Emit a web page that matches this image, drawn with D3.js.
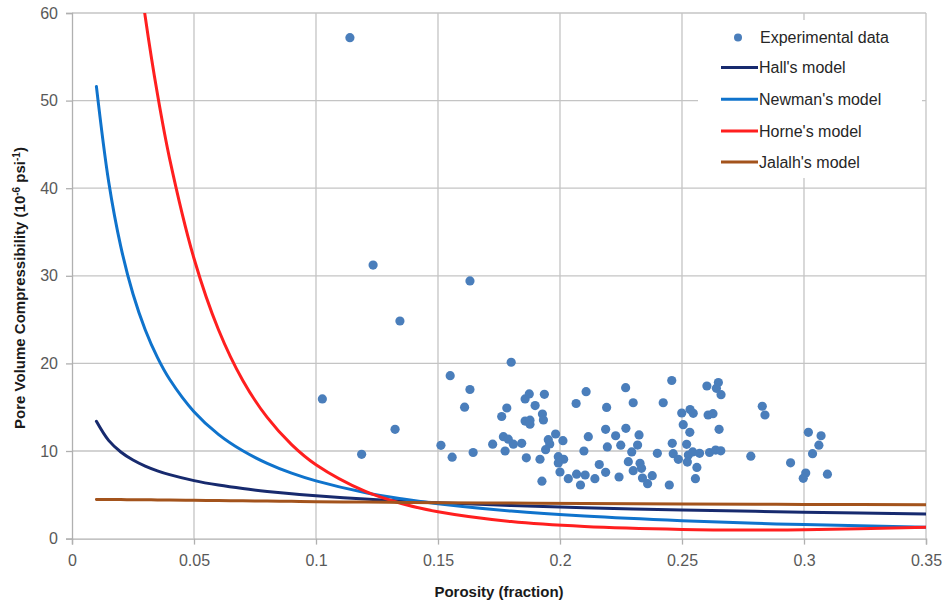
<!DOCTYPE html>
<html>
<head>
<meta charset="utf-8">
<script src="https://cdn.jsdelivr.net/npm/d3@7"></script>
<style>
  html, body { margin: 0; padding: 0; background: #fff; }
  svg { display: block; font-family: "Liberation Sans", Arial, sans-serif; }
</style>
</head>
<body>
<svg id="chart" width="944" height="606"></svg>
<script>
// Experimental measurements: porosity (fraction) and pore volume compressibility (1e-6 psi^-1)
const expPorosity = [
  0.1139, 0.1234, 0.1344, 0.1631, 0.1026, 0.1187, 0.1324, 0.1800, 0.1550, 0.1631,
  0.1609, 0.1512, 0.1558, 0.1644, 0.1724, 0.1761, 0.1782, 0.1768, 0.1788, 0.1809,
  0.1843, 0.1775, 0.1862, 0.1918, 0.1926, 0.1857, 0.1874, 0.1898, 0.1936, 0.1857,
  0.1877, 0.1877, 0.1928, 0.1932, 0.1952, 0.1958, 0.1941, 0.1982, 0.2012, 0.2066,
  0.2107, 0.2191, 0.2269, 0.2300, 0.1993, 0.2015, 0.1993, 0.2000, 0.2034, 0.2068,
  0.2084, 0.2103, 0.2098, 0.2116, 0.2143, 0.2161, 0.2187, 0.2194, 0.2187, 0.2228,
  0.2249, 0.2242, 0.2270, 0.2280, 0.2294, 0.2300, 0.2328, 0.2334, 0.2338, 0.2359,
  0.2378, 0.2448, 0.2324, 0.2318, 0.2399, 0.2423, 0.2458, 0.2460, 0.2464, 0.2485,
  0.2499, 0.2533, 0.2546, 0.2505, 0.2532, 0.2519, 0.2526, 0.2544, 0.2522, 0.2572,
  0.2561, 0.2555, 0.2602, 0.2649, 0.2641, 0.2660, 0.2607, 0.2627, 0.2652, 0.2613,
  0.2638, 0.2659, 0.2782, 0.2829, 0.2840, 0.2945, 0.3018, 0.3070, 0.3061, 0.3035,
  0.3007, 0.2997, 0.3096
];
const expCompressibility = [
  57.18, 31.23, 24.84, 29.41, 15.94, 9.62, 12.48, 20.13, 18.60, 17.02,
  15.00, 10.65, 9.29, 9.83, 10.78, 13.94, 14.91, 11.63, 11.35, 10.78,
  10.88, 10.00, 9.22, 9.06, 6.55, 15.94, 16.51, 15.19, 16.47, 13.42,
  13.52, 13.06, 14.22, 13.54, 11.29, 10.80, 10.15, 11.94, 11.18, 15.42,
  16.77, 14.97, 17.23, 15.51, 9.35, 9.06, 8.63, 7.60, 6.84, 7.35,
  6.12, 7.26, 10.00, 11.63, 6.84, 8.46, 12.48, 10.46, 7.57, 11.74,
  10.66, 7.03, 12.59, 8.78, 9.89, 7.75, 8.60, 8.02, 6.92, 6.27,
  7.18, 6.12, 11.83, 10.68, 9.74, 15.51, 18.05, 10.88, 9.69, 9.05,
  14.34, 14.74, 14.30, 13.00, 12.13, 10.76, 9.54, 9.89, 8.74, 9.74,
  8.12, 6.84, 17.42, 17.82, 17.16, 16.43, 14.11, 14.26, 12.48, 9.83,
  10.11, 10.02, 9.41, 15.11, 14.11, 8.65, 12.13, 11.74, 10.66, 9.69,
  7.49, 6.88, 7.35
];

// Model curves, sampled along porosity
const modelPorosity = [0.01, 0.015, 0.02, 0.025, 0.03, 0.035, 0.04, 0.05, 0.06, 0.07, 0.08,
  0.09, 0.10, 0.12, 0.135, 0.15, 0.18, 0.21, 0.25, 0.28, 0.30, 0.35];
const hallValues = [13.39, 11.21, 9.89, 8.97, 8.28, 7.74, 7.30, 6.62, 6.11, 5.71, 5.39,
  5.12, 4.89, 4.51, 4.28, 4.09, 3.78, 3.53, 3.27, 3.11, 3.02, 2.82];
const newmanValues = [51.62, 40.79, 33.33, 27.92, 23.85, 20.69, 18.19, 14.49, 11.90, 10.02, 8.59,
  7.47, 6.59, 5.26, 4.54, 3.97, 3.14, 2.57, 2.04, 1.75, 1.60, 1.30];
const horneValues = [116.9, 98.4, 82.96, 70.2, 59.6, 50.77, 43.38, 31.98, 23.87, 18.05, 13.83,
  10.73, 8.43, 5.41, 4.01, 3.06, 1.94, 1.38, 1.05, 0.98, 1.00, 1.30];
const jalalhValues = [4.47, 4.46, 4.45, 4.44, 4.43, 4.42, 4.40, 4.37, 4.34, 4.31, 4.28,
  4.25, 4.22, 4.17, 4.13, 4.10, 4.05, 4.01, 3.96, 3.92, 3.90, 3.86];

const modelNames = ["Hall's model", "Newman's model", "Horne's model", "Jalalh's model"];
const modelColors = ["#172a6e", "#0f73cc", "#ff1f1f", "#a3531c"];
const modelSeries = [hallValues, newmanValues, horneValues, jalalhValues];

const xTicks = [0, 0.05, 0.1, 0.15, 0.2, 0.25, 0.3, 0.35];
const yTicks = [0, 10, 20, 30, 40, 50, 60];

const svg = d3.select("#chart");
const margin = { left: 72, top: 13, right: 18, bottom: 67.4 };
const W = 944, H = 606;
const innerW = W - margin.left - margin.right;
const innerH = H - margin.top - margin.bottom;

const x = d3.scaleLinear().domain([0, 0.35]).range([0, innerW]);
const y = d3.scaleLinear().domain([0, 60]).range([innerH, 0]);

const g = svg.append("g").attr("transform", `translate(${margin.left},${margin.top})`);

svg.append("defs").append("clipPath").attr("id", "plotClip")
  .append("rect").attr("x", 0).attr("y", 0).attr("width", innerW).attr("height", innerH);

const gridColor = "#c4c4c4";

// gridlines
g.append("g").selectAll("line").data(yTicks.slice(1)).join("line")
  .attr("x1", 0).attr("x2", innerW)
  .attr("y1", d => y(d)).attr("y2", d => y(d))
  .attr("stroke", gridColor).attr("stroke-width", 1.3);
g.append("g").selectAll("line").data(xTicks.slice(1)).join("line")
  .attr("x1", d => x(d)).attr("x2", d => x(d))
  .attr("y1", 0).attr("y2", innerH)
  .attr("stroke", gridColor).attr("stroke-width", 1.3);

// axes
const fmtX = d => String(+d.toFixed(2));
const xAxis = g.append("g").attr("transform", `translate(0,${innerH})`)
  .call(d3.axisBottom(x).tickValues(xTicks).tickFormat(fmtX).tickSize(6).tickPadding(10));
const yAxis = g.append("g")
  .call(d3.axisLeft(y).tickValues(yTicks).tickSize(6).tickPadding(8));
[xAxis, yAxis].forEach(a => {
  a.select(".domain").attr("stroke", "#b0b0b0").attr("stroke-width", 1.3);
  a.selectAll(".tick line").attr("stroke", "#b0b0b0").attr("stroke-width", 1.3);
  a.selectAll(".tick text").attr("fill", "#595959")
    .style("font-size", "16px").style("font-family", "'Liberation Sans', Arial, sans-serif");
});

// model curves
const line = d3.line()
  .x((d, i) => x(modelPorosity[i]))
  .y(d => y(d))
  .curve(d3.curveCatmullRom.alpha(0.5));
const curves = g.append("g").attr("clip-path", "url(#plotClip)");
modelSeries.forEach((vals, k) => {
  curves.append("path")
    .attr("d", line(vals))
    .attr("fill", "none")
    .attr("stroke", modelColors[k])
    .attr("stroke-width", 3)
    .attr("stroke-linecap", "round");
});

// experimental points
g.append("g").selectAll("circle").data(expPorosity).join("circle")
  .attr("cx", d => x(d))
  .attr("cy", (d, i) => y(expCompressibility[i]))
  .attr("r", 4.6)
  .attr("fill", "#4a7ebb");

// legend
const legend = svg.append("g");
legend.append("rect").attr("x", 698).attr("y", 20).attr("width", 224).attr("height", 158).attr("fill", "#fff");
const legFont = "16px";
legend.append("circle").attr("cx", 738).attr("cy", 37.5).attr("r", 4).attr("fill", "#4a7ebb");
legend.append("text").attr("x", 760).attr("y", 37.5).attr("dy", "0.35em")
  .attr("fill", "#262626").style("font-size", legFont).text("Experimental data");
const legY = [67.5, 99.3, 131, 162];
modelNames.forEach((name, k) => {
  legend.append("line").attr("x1", 721).attr("x2", 758)
    .attr("y1", legY[k]).attr("y2", legY[k])
    .attr("stroke", modelColors[k]).attr("stroke-width", 3);
  legend.append("text").attr("x", 759).attr("y", legY[k]).attr("dy", "0.35em")
    .attr("fill", "#262626").style("font-size", legFont).text(name);
});

// axis titles
svg.append("text").attr("x", margin.left + innerW / 2).attr("y", 597)
  .attr("text-anchor", "middle").attr("font-weight", "bold")
  .style("font-size", "15px").attr("fill", "#1a1a1a").text("Porosity (fraction)");

const yTitle = svg.append("text")
  .attr("transform", "translate(25,288) rotate(-90)")
  .attr("text-anchor", "middle").attr("font-weight", "bold")
  .style("font-size", "15px").attr("fill", "#1a1a1a");
yTitle.append("tspan").text("Pore Volume Compressibility (10");
yTitle.append("tspan").attr("dy", -5).style("font-size", "10px").text("-6");
yTitle.append("tspan").attr("dy", 5).text(" psi");
yTitle.append("tspan").attr("dy", -5).style("font-size", "10px").text("-1");
yTitle.append("tspan").attr("dy", 5).text(")");
</script>
</body>
</html>
